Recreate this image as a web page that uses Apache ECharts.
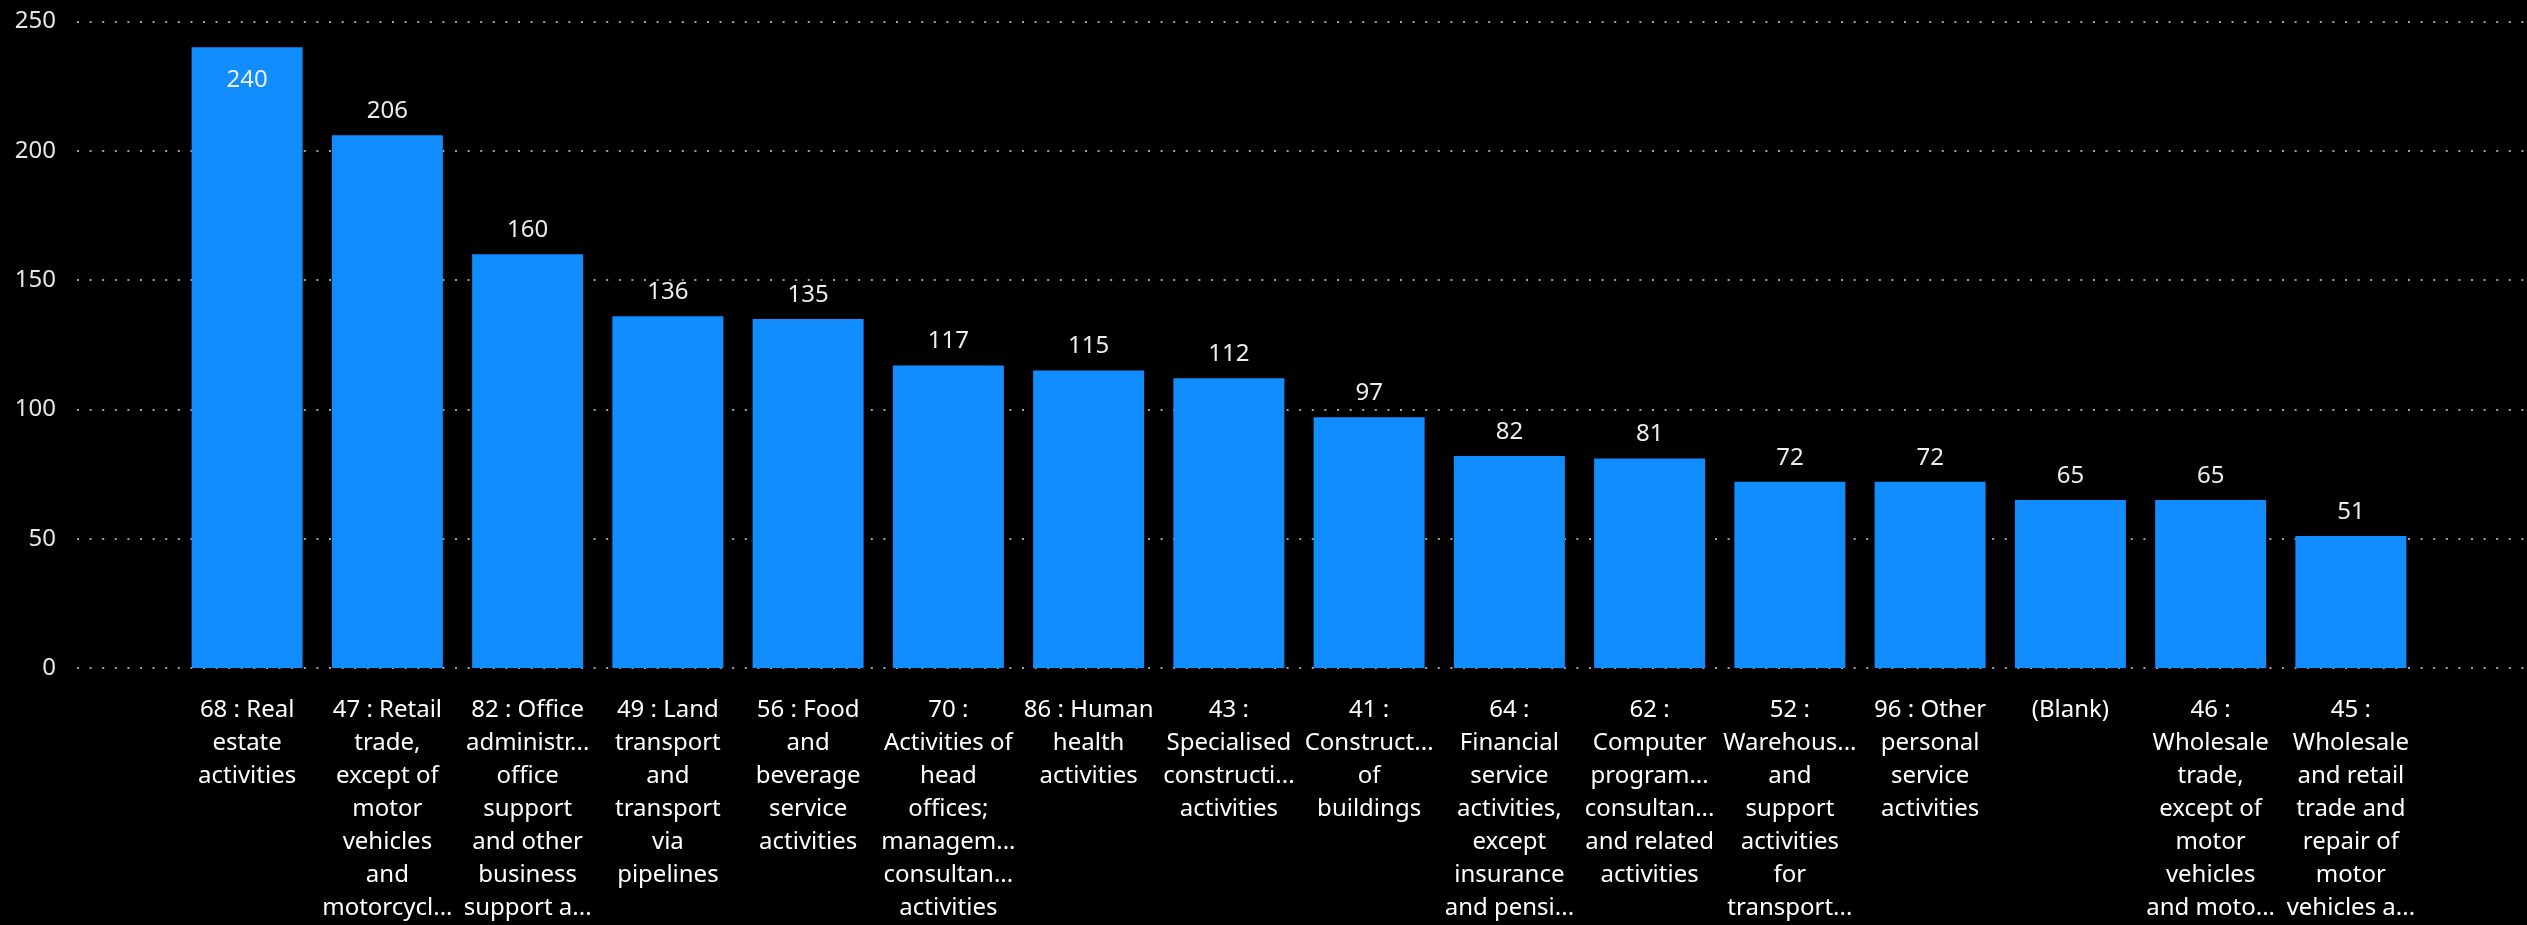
<!DOCTYPE html>
<html>
<head>
<meta charset="utf-8">
<script src="https://cdn.jsdelivr.net/npm/echarts@6/dist/echarts.min.js"></script>
<style>
  html, body { margin: 0; padding: 0; background: #000; }
  #chart { width: 2527px; height: 925px; }
</style>
</head>
<body>
<div id="chart"></div>
<script>
// Category labels as displayed (wrapped / truncated lines)
const categoryLines = [
  ["68 : Real", "estate", "activities"],
  ["47 : Retail", "trade,", "except of", "motor", "vehicles", "and", "motorcycl..."],
  ["82 : Office", "administr...", "office", "support", "and other", "business", "support a..."],
  ["49 : Land", "transport", "and", "transport", "via", "pipelines"],
  ["56 : Food", "and", "beverage", "service", "activities"],
  ["70 :", "Activities of", "head", "offices;", "managem...", "consultan...", "activities"],
  ["86 : Human", "health", "activities"],
  ["43 :", "Specialised", "constructi...", "activities"],
  ["41 :", "Construct...", "of", "buildings"],
  ["64 :", "Financial", "service", "activities,", "except", "insurance", "and pensi..."],
  ["62 :", "Computer", "program...", "consultan...", "and related", "activities"],
  ["52 :", "Warehous...", "and", "support", "activities", "for", "transport..."],
  ["96 : Other", "personal", "service", "activities"],
  ["(Blank)"],
  ["46 :", "Wholesale", "trade,", "except of", "motor", "vehicles", "and moto..."],
  ["45 :", "Wholesale", "and retail", "trade and", "repair of", "motor", "vehicles a..."]
];
const counts = [240, 206, 160, 136, 135, 117, 115, 112, 97, 82, 81, 72, 72, 65, 65, 51];
const yTicks = [0, 50, 100, 150, 200, 250];

const categories = categoryLines.map(l => l.join("\n"));
const FONT = "'Segoe UI', 'Noto Sans', sans-serif";
const yMin = yTicks[0], yMax = yTicks[yTicks.length - 1];
const yStep = yTicks[1] - yTicks[0];

const chart = echarts.init(document.getElementById('chart'), null, { renderer: 'canvas' });
chart.setOption({
  backgroundColor: '#000000',
  animation: false,
  grid: [
    { left: 77, right: 0, top: 21.5, bottom: 257 },
    { left: 177, right: 106, top: 21.5, bottom: 257 }
  ],
  xAxis: [
    { gridIndex: 0, type: 'value', show: false, min: 0, max: 1 },
    {
      gridIndex: 1, type: 'category', data: categories,
      axisLine: { show: false }, axisTick: { show: false },
      axisLabel: {
        interval: 0, color: '#ffffff', fontFamily: FONT, fontSize: 24,
        lineHeight: 33, margin: 26, align: 'center', verticalAlign: 'top'
      }
    }
  ],
  yAxis: [
    {
      gridIndex: 0, type: 'value', min: yMin, max: yMax, interval: yStep,
      axisLine: { show: false }, axisTick: { show: false },
      axisLabel: { color: '#e6e6e6', fontFamily: FONT, fontSize: 24, margin: 21 },
      splitLine: { show: true, lineStyle: { color: '#a0a0a0', width: 2, type: [2, 10.6] } }
    },
    {
      gridIndex: 1, type: 'value', min: yMin, max: yMax, interval: yStep, show: false,
      splitLine: { show: false }
    }
  ],
  series: [{
    type: 'bar',
    xAxisIndex: 1, yAxisIndex: 1,
    barWidth: 111,
    itemStyle: { color: '#118DFF' },
    data: counts.map(v => v > 230 ? {
      value: v,
      label: { position: 'insideTop', distance: 21 }
    } : v),
    label: {
      show: true, position: 'top', distance: 12,
      color: '#ececec', fontFamily: FONT, fontSize: 24
    }
  }]
});
</script>
</body>
</html>
